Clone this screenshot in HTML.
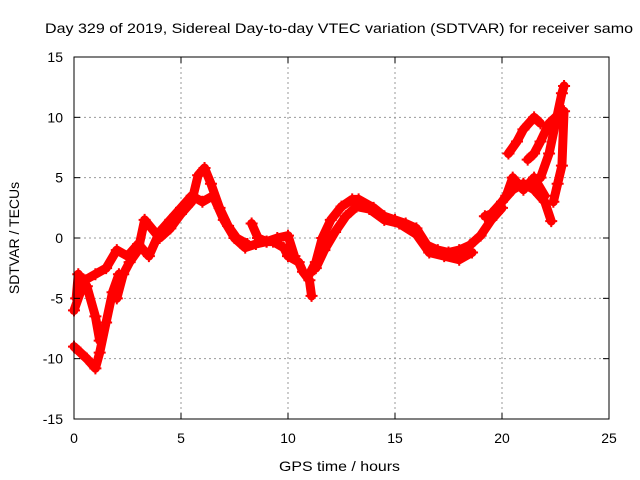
<!DOCTYPE html>
<html><head><meta charset="utf-8"><style>
body{margin:0;background:#fff;}
svg{display:block;font-family:"Liberation Sans",sans-serif;}
</style></head><body>
<svg id="c" width="640" height="480">
<text x="45" y="33" font-size="14" textLength="588" lengthAdjust="spacingAndGlyphs">Day 329 of 2019, Sidereal Day-to-day VTEC variation (SDTVAR) for receiver samo</text>
<text x="279" y="471" font-size="14" textLength="121" lengthAdjust="spacingAndGlyphs">GPS time / hours</text>
<text transform="translate(19,238) rotate(-90)" font-size="14" text-anchor="middle">SDTVAR / TECUs</text>
<g id="grid"></g><g id="marks"></g>
<rect x="74" y="57" width="535" height="362" fill="none" stroke="#000"/>
<g id="ticks"></g>
</svg>
<script>
const xTicks=[0,5,10,15,20,25];
const yTicks=[-15,-10,-5,0,5,10,15];
const trackA_t=[0,0.5,1,1.5,2,2.5,3,3.5,4,4.5,5,5.5,6,6.5,7,7.5,8,8.5,9,9.3,9.8,10,10.5,10.7,11,11.1];
const trackA_v=[-6,-3.5,-3,-2.5,-1,-1.5,-0.5,-1.5,0.5,1.5,2.5,3.5,3,3.5,1.5,0,-0.8,-0.5,-0.3,-0.3,-0.8,-1.5,-2,-2.8,-3.5,-4.8];
const trackB_t=[0,0.3,0.6,1,1.2,1.5,1.8,2.1];
const trackB_v=[-9,-9.5,-10,-10.8,-9.5,-7,-4.5,-3];
const trackC_t=[0.1,0.2,0.6,1,1.2];
const trackC_v=[-5,-3,-4,-6.5,-8.5];
const trackD_t=[2,2.3,2.6,3,3.3,4,4.5,5,5.5,5.8,6.1,6.4,6.8,7.2,7.6,8.1];
const trackD_v=[-5,-3,-2,-1,1.5,0,0.8,2,3,5.2,5.8,4.5,2.5,1,0,-0.5];
const trackE_t=[8.3,8.6,9,9.5,10,10.3];
const trackE_v=[1.2,0,-0.3,0,0.2,-1.5];
const trackF_t=[11,11.3,11.6,12,12.5,13,13.3,14,14.5,15,15.5,16,16.5,17,17.5,18,18.5,19,19.5,20];
const trackF_v=[-3,-2,0,1.5,2.6,3.2,3.2,2.5,1.8,1.5,1.2,0.8,-0.6,-1,-1.2,-1,-0.6,0.2,1.5,2.5];
const trackF2_t=[11.3,11.7,12.2,12.7,13.2,13.8,14.5,15.2,16,16.6,17.3,18,18.6];
const trackF2_v=[-2.5,-1,0.5,1.8,2.6,2.4,1.5,1.2,0.3,-1.2,-1.5,-1.8,-1.2];
const trackG_t=[19.2,19.5,20,20.5,21,21.5,22,22.3];
const trackG_v=[1.8,2,3,4,4.5,4,3,1.4];
const trackH_t=[19.8,20.2,20.5,21,21.5,22];
const trackH_v=[2.5,3.5,5,4,5,3.5];
const trackI_t=[20.3,20.7,21,21.5,21.8];
const trackI_v=[7,8,9,10,9.5];
const trackJ_t=[21.2,21.5,21.8,22.2,22.5,22.8];
const trackJ_v=[6.5,7,8,9.5,10,10.5];
const trackK_t=[21.8,22.2,22.5,22.8,22.9];
const trackK_v=[5,7,9.5,12,12.6];
const trackL_t=[22.4,22.6,22.8,22.9];
const trackL_v=[3,4.5,6,10.5];
const tracks=[[trackA_t,trackA_v],[trackB_t,trackB_v],[trackC_t,trackC_v],[trackD_t,trackD_v],[trackE_t,trackE_v],[trackF_t,trackF_v],[trackF2_t,trackF2_v],[trackG_t,trackG_v],[trackH_t,trackH_v],[trackI_t,trackI_v],[trackJ_t,trackJ_v],[trackK_t,trackK_v],[trackL_t,trackL_v]];
const X=t=>74+t*535/25, Y=v=>238-v*362/30;
const NS="http://www.w3.org/2000/svg";
const grid=document.getElementById('grid'),ticks=document.getElementById('ticks'),marks=document.getElementById('marks');
function mk(tag,at,p){const e=document.createElementNS(NS,tag);for(const k in at)e.setAttribute(k,at[k]);p.appendChild(e);return e;}
xTicks.forEach(t=>{
 if(t>0&&t<25){const g=mk('line',{x1:X(t),x2:X(t),y1:57,y2:419,stroke:'#999','stroke-dasharray':'2,3'},grid);
 
 }
 mk('line',{x1:X(t),x2:X(t),y1:419,y2:413,stroke:'#000'},ticks);
 mk('line',{x1:X(t),x2:X(t),y1:57,y2:63,stroke:'#000'},ticks);
 const l=mk('text',{x:X(t),y:443,'font-size':14,'text-anchor':'middle'},ticks);l.textContent=t;
 
 
});
yTicks.forEach(v=>{
 if(v>-15&&v<15){const g=mk('line',{x1:74,x2:609,y1:Y(v),y2:Y(v),stroke:'#999','stroke-dasharray':'2,3'},grid);
 
 }
 mk('line',{x1:74,x2:80,y1:Y(v),y2:Y(v),stroke:'#000'},ticks);
 mk('line',{x1:603,x2:609,y1:Y(v),y2:Y(v),stroke:'#000'},ticks);
 const l=mk('text',{x:63,y:Y(v)+5,'font-size':14,'text-anchor':'end'},ticks);l.textContent=v;
 
 
});
tracks.forEach(([ts,vs])=>{
 const pl=mk('polyline',{points:ts.map((t,i)=>X(t)+','+Y(vs[i])).join(' '),fill:'none',stroke:'#f00','stroke-width':9,'stroke-linejoin':'round','stroke-linecap':'round'},marks);
 
 
 ts.forEach((t,i)=>{
  const x=X(t),y=Y(vs[i]);
  const p=mk('path',{d:`M${x-6},${y}H${x+6}M${x},${y-6}V${y+6}`,stroke:'#f00','stroke-width':2},marks);
  
  
 });
});
</script>
</body></html>
